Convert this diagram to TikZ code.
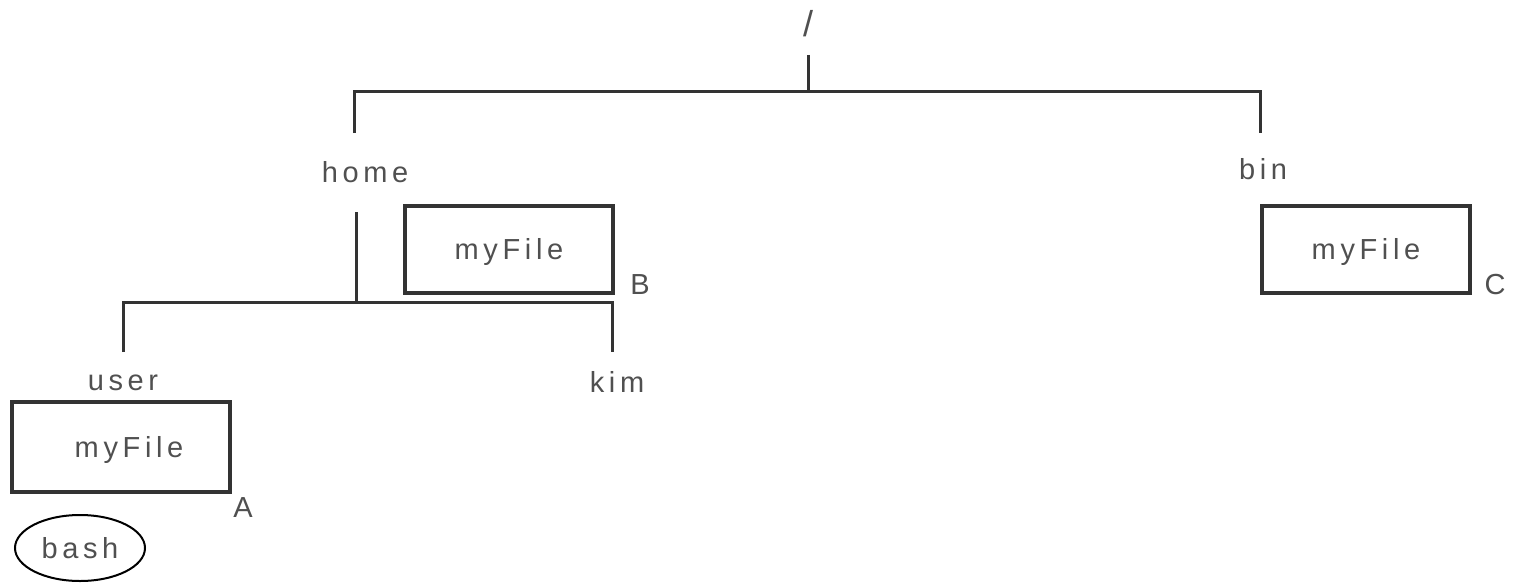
\documentclass[tikz,border=0pt]{standalone}
\usepackage{fontspec}
\setmainfont{Liberation Sans}
\newfontfamily\lblfont[LetterSpace=16]{Liberation Sans}
\usetikzlibrary{shapes.geometric}
\definecolor{txt}{HTML}{505050}
\definecolor{ln}{HTML}{333333}
\tikzset{
  lbl/.style={font=\lblfont\fontsize{14.5}{17}\selectfont, text=txt, inner sep=0pt, anchor=base},
  conn/.style={draw=ln, line width=1.5pt},
  filebox/.style={draw=ln, line width=1.8pt, minimum width=104pt, minimum height=43.5pt,
    font=\lblfont\fontsize{14.5}{17}\selectfont, text=txt, inner sep=0pt,
    text height=11pt, text depth=1pt},
  proc/.style={ellipse, draw=black, line width=1pt, minimum width=65pt, minimum height=33pt,
    font=\lblfont\fontsize{14.5}{17}\selectfont, text=txt, inner sep=0pt}
}
\begin{document}
\begin{tikzpicture}[x=0.5pt,y=-0.5pt]
\useasboundingbox (0,0) rectangle (1518,583);

% directory names
\node[lbl, font=\lblfont\fontsize{18}{20}\selectfont] (root) at (808,37) {/};
\node[lbl] (home) at (365,182) {home};
\node[lbl] (bin)  at (1263,179) {bin};
\node[lbl] (user) at (123,390) {user};
\node[lbl] (kim)  at (617,392) {kim};

% files
\node[filebox] (fileB) at (509,249.5) {myFile};
\node[filebox] (fileC) at (1366,249.5) {myFile};
\node[filebox, minimum width=109pt, minimum height=45pt] (fileA) at (121,447) {\hspace*{8pt}myFile};
\node[lbl] (labB) at (640,294) {B};
\node[lbl] (labC) at (1495,294) {C};
\node[lbl] (labA) at (243,517) {A};

% running process
\node[proc] (bash) at (80,548) {bash};

% branch end points
\coordinate (rootStem) at (808,55);
\coordinate (rootJ) at (808,92);
\coordinate (homeTop) at (354,133);
\coordinate (binTop) at (1260,133);
\coordinate (homeStem) at (356,212);
\coordinate (homeJ) at (356,302);
\coordinate (userTop) at (123,352);
\coordinate (kimTop) at (612,352);

% tree connectors
\draw[conn] (rootStem) -- (rootJ);
\draw[conn] (homeTop) |- (rootJ) -| (binTop);
\draw[conn] (homeStem) -- (homeJ);
\draw[conn] (userTop) |- (homeJ) -| (kimTop);
\end{tikzpicture}
\end{document}
